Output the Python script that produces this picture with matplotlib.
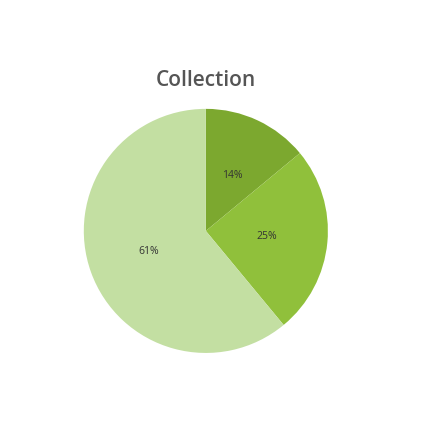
import matplotlib
matplotlib.use("Agg")
import matplotlib.pyplot as plt
import numpy as np

title = "Collection"
categories = ["A", "B", "C"]
values = [14, 25, 61]
labels = ["14%", "25%", "61%"]
colors = ["#7ca82f", "#90c03b", "#c3dfa2"]

fig = plt.figure(figsize=(4.32, 4.32), dpi=100)
fig.patch.set_facecolor("white")
ax = fig.add_axes([0.194, 0.183, 0.565, 0.565])
wedges, texts = ax.pie(values, colors=colors, startangle=90, counterclock=False,
                       radius=1.0, wedgeprops=dict(linewidth=0))
for w, lab in zip(wedges, labels):
    ang = np.deg2rad((w.theta1 + w.theta2) / 2)
    ax.text(0.5 * np.cos(ang), 0.5 * np.sin(ang), lab, ha="center", va="center",
            fontsize=7.5, color="#333333", family="Open Sans")
ax.set_xlim(-1, 1)
ax.set_ylim(-1, 1)
ax.set_aspect("equal")
ax.axis("off")
fig.text(206 / 432, 1 - 81 / 432, title, ha="center", va="center", fontsize=15,
         fontweight="semibold", color="#555555", family="Open Sans")
fig.savefig("out.png", dpi=100, facecolor="white")
